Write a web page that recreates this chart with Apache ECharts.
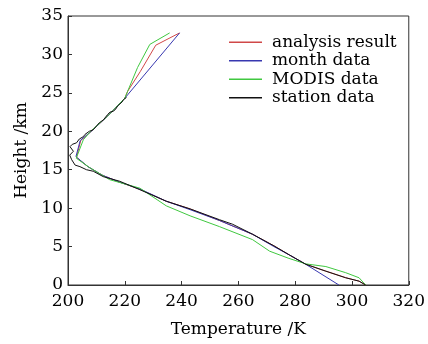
<!DOCTYPE html>
<html><head><meta charset="utf-8">
<script src="https://cdn.jsdelivr.net/npm/echarts@6/dist/echarts.min.js"></script>
<style>html,body{margin:0;padding:0;background:#fff}#c{width:428px;height:344px}</style>
</head><body><div id="c"></div>
<script>
// [temperature K, height km]
const analysisResult = [[239.3,32.8],[230.9,31.2],[225.5,27.8],[221,25.2],[220,24.3],[214,22],[208.5,20.1],[204.5,18.8],[203,16.6],[207,15.4],[212,14.3],[218,13.4],[225,12.5],[234.6,10.9],[243,9.9],[253.3,8.4],[265,6.6],[272.5,5.1],[278,3.9],[283.7,2.7],[290.8,1.8],[297.8,0.95],[302.5,0.5],[304.8,0]];
const monthData = [[239.3,32.8],[220,24.3],[214,22],[208.5,20.1],[204.3,18.8],[202.8,16.7],[207,15.4],[212,14.3],[218,13.4],[225.3,12.5],[234.6,10.9],[243,9.8],[253.3,8.4],[265,6.6],[272.5,5.0],[278,3.9],[283.7,2.7],[295.4,0]];
const modisData = [[235.8,32.8],[228.8,31.3],[224.5,28.3],[221,25.2],[220,24.3],[214,22],[208,20],[205.4,18.9],[202.9,16.5],[207.5,15.3],[214.7,13.7],[225.3,12.6],[234.6,10.3],[243,9],[253.3,7.6],[265,5.9],[271,4.4],[277.5,3.5],[283.7,2.75],[290.8,2.4],[297.8,1.6],[302.5,0.94],[304.8,0]];
const stationData = [[220.6,24.4],[219.5,24.1],[219,23.8],[217.5,23.3],[216.8,22.9],[216,22.6],[214.8,22.5],[214,22.2],[212.5,21.5],[212,21.3],[211,21.1],[210.3,20.8],[210,20.6],[208.9,20.2],[207.5,20.0],[207,19.8],[206,19.6],[205.4,19.3],[204,19.0],[203,18.5],[201.5,18.3],[200.7,18.0],[201.9,17.4],[200.6,16.9],[201.3,16.3],[202.5,15.6],[204.2,15.4],[206.5,15.0],[208.9,14.8],[212.4,14.1],[218.2,13.5],[225.3,12.4],[234.6,10.9],[243,9.9],[253.3,8.5],[258,7.9],[265,6.6],[272.5,5.1],[278,3.9],[283.7,2.7],[290.8,1.8],[297.8,0.94],[302.5,0.5],[304.8,0]];
const seriesNames = ['analysis result','month data','MODIS data','station data'];
const seriesColors = ['#d04848','#3838b0','#40c840','#111111'];
const seriesData = [analysisResult, monthData, modisData, stationData];

const FONT = 'DejaVu Serif';
const chart = echarts.init(document.getElementById('c'));
chart.setOption({
  animation: false,
  backgroundColor: '#fff',
  grid: {left: 68, right: 19, top: 16, bottom: 59, show: true, borderColor: '#333', borderWidth: 1, backgroundColor: 'transparent'},
  legend: {
    data: seriesNames, orient: 'vertical', left: 229, top: 33, padding: 0, itemGap: 0,
    itemWidth: 33, itemHeight: 1.5, icon: 'rect',
    textStyle: {fontFamily: FONT, fontSize: 17, color: '#000', lineHeight: 18.5, padding: [0,0,0,5]}
  },
  xAxis: {
    type: 'value', min: 200, max: 320, interval: 20,
    name: 'Temperature /K', nameLocation: 'middle', nameGap: 36,
    nameTextStyle: {fontFamily: FONT, fontSize: 17, color: '#000'},
    axisLine: {lineStyle: {color: '#333', width: 1}},
    axisTick: {inside: true, length: 4, lineStyle: {color: '#333'}},
    axisLabel: {fontFamily: FONT, fontSize: 17, color: '#000', margin: 8},
    splitLine: {show: false}
  },
  yAxis: {
    type: 'value', min: 0, max: 35, interval: 5,
    name: 'Height /km', nameLocation: 'middle', nameGap: 38, nameRotate: 90,
    nameTextStyle: {fontFamily: FONT, fontSize: 17, color: '#000'},
    axisLine: {lineStyle: {color: '#333', width: 1}},
    axisTick: {inside: true, length: 4, lineStyle: {color: '#333'}},
    axisLabel: {fontFamily: FONT, fontSize: 17, color: '#000', margin: 5},
    splitLine: {show: false}
  },
  series: seriesData.map((d, i) => ({
    name: seriesNames[i], type: 'line', data: d, showSymbol: false, symbol: 'none',
    color: seriesColors[i], lineStyle: {width: 1, color: seriesColors[i]}, z: i === 3 ? 5 : 2
  }))
});
</script></body></html>
